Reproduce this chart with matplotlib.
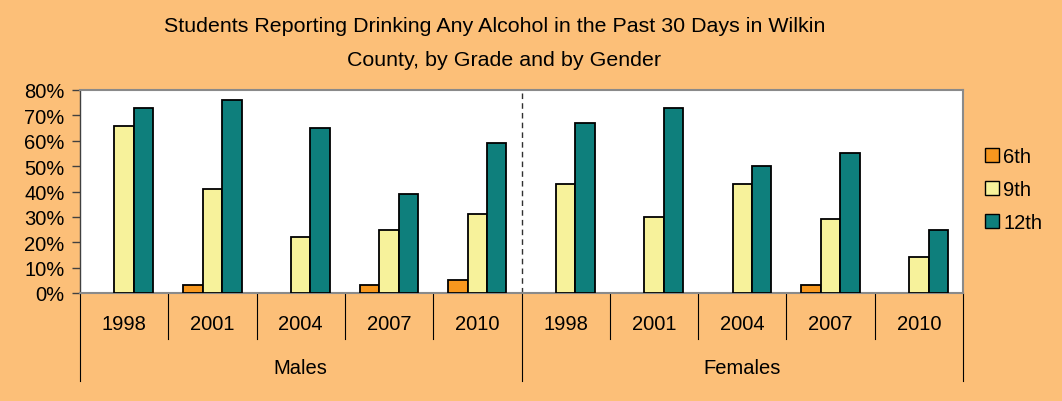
import numpy as np
import matplotlib
matplotlib.use("Agg")
import matplotlib.pyplot as plt
from matplotlib.patches import Patch
import matplotlib.transforms as mtransforms

# values (percent)
years = ["1998", "2001", "2004", "2007", "2010"]
genders = ["Males", "Females"]
grades = ["6th", "9th", "12th"]
sixth = [0, 3, 0, 3, 5, 0, 0, 0, 3, 0]
ninth = [66, 41, 22, 25, 31, 43, 30, 43, 29, 14]
twelfth = [73, 76, 65, 39, 59, 67, 73, 50, 55, 25]

bg = "#fcbf78"
colors = ["#f7971e", "#f7f29b", "#0e7f7c"]

plt.rcParams['font.family'] = ['Liberation Sans', 'DejaVu Sans']

fig = plt.figure(figsize=(10.62, 4.02), dpi=100, facecolor=bg)
ax = fig.add_axes([80/1062, 1 - 294/402, (963-80)/1062, (294-91)/402])
ax.set_facecolor("white")

x = np.arange(len(sixth))
w = 0.22
for i, (vals, c) in enumerate(zip([sixth, ninth, twelfth], colors)):
    vals = np.array(vals)
    keep = vals > 0  # empty cells are not drawn at all
    ax.bar(x[keep] + (i - 1) * w, vals[keep], width=w, color=c, edgecolor="black", linewidth=1.3, zorder=3)

ax.set_xlim(-0.5, len(sixth) - 0.5)
ax.set_ylim(0, 80)
ax.set_yticks(range(0, 81, 10))
ax.set_yticklabels([f"{v}%" for v in range(0, 81, 10)], fontsize=14.5)
ax.tick_params(axis='y', direction='out', length=6, width=1, color="#404040", pad=5)
ax.set_xticks([])
for s in ["top", "right"]:
    ax.spines[s].set_color("#8a8a8a")
    ax.spines[s].set_linewidth(1.5)
ax.spines["left"].set_color("#404040")
ax.spines["left"].set_linewidth(1)
ax.spines["bottom"].set_color("#8a8a8a")
ax.spines["bottom"].set_linewidth(1.5)

# dashed separator between genders
ax.axvline(len(years) - 0.5, color="#303030", linestyle=(0, (4, 3)), linewidth=1, zorder=2)

# two-level category axis
trans = mtransforms.blended_transform_factory(ax.transData, ax.transAxes)
for k in range(len(sixth) + 1):
    edge = k - 0.5
    bottom = -0.433 if k % len(years) == 0 else -0.227
    ax.plot([edge, edge], [0, bottom], color="black", linewidth=0.8, transform=trans, clip_on=False)
for k in range(len(sixth)):
    ax.text(k, -0.148, years[k % len(years)], transform=trans, ha="center", va="center", fontsize=14.5)
for g, name in enumerate(genders):
    ax.text(g * len(years) + (len(years) - 1) / 2, -0.365, name, transform=trans,
            ha="center", va="center", fontsize=14.5)

fig.text(495/1062, 1 - 27/402, "Students Reporting Drinking Any Alcohol in the Past 30 Days in Wilkin",
         ha="center", va="center", fontsize=15.4)
fig.text(504/1062, 1 - 61/402, "County, by Grade and by Gender", ha="center", va="center", fontsize=15.4)

handles = [Patch(facecolor=c, edgecolor="black", linewidth=1) for c in colors]
fig.legend(handles, grades, loc="upper left", bbox_to_anchor=(967/1062, 1 - 130/402), frameon=False,
           fontsize=14.5, handlelength=0.7, handleheight=0.7, handletextpad=0.2, labelspacing=0.7)

fig.savefig("out.png", dpi=100, facecolor=bg)
